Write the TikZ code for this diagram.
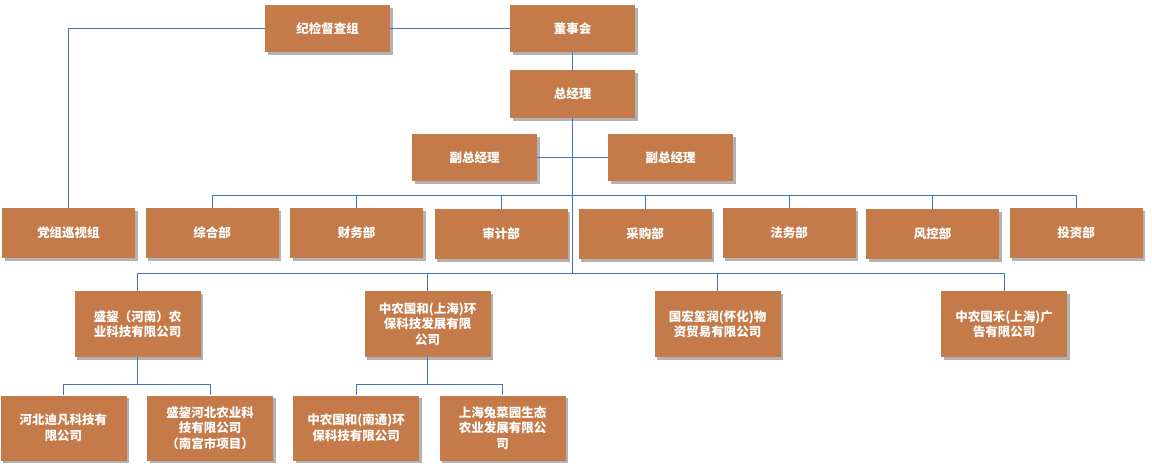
\documentclass[tikz,border=0pt]{standalone}
\usepackage{fontspec}
\newfontfamily\cjk{Noto Sans CJK SC}
\usetikzlibrary{shadows}
\definecolor{boxfill}{RGB}{196,122,73}
\definecolor{linkblue}{RGB}{68,114,196}
\tikzset{
  orgbox/.style={draw=none, fill=boxfill, text=white, font=\cjk\bfseries\fontsize{12.5}{15.5}\selectfont,
    align=center, inner sep=2pt,
    drop shadow={shadow xshift=2.5pt, shadow yshift=-2.5pt, fill=black, opacity=0.3}},
  topbox/.style={orgbox, minimum width=125pt, minimum height=47pt},
  deptbox/.style={orgbox, minimum width=133pt, minimum height=50pt},
  combox/.style={orgbox, minimum width=126pt, minimum height=66pt},
  subbox/.style={orgbox, minimum width=126pt, minimum height=65pt},
  conn/.style={draw=linkblue, line width=0.9pt}
}
\begin{document}
\begin{tikzpicture}[x=1pt, y=-1pt]
\useasboundingbox (0,0) rectangle (1152,466);
% top level
\node[topbox] (jj) at (327.5,28.5) {纪检督查组};
\node[topbox] (dsh) at (572.5,28.5) {董事会};
\node[topbox, minimum height=48pt] (zjl) at (572.5,94) {总经理};
\node[topbox] (fz1) at (474.5,157.5) {副总经理};
\node[topbox] (fz2) at (670.5,157.5) {副总经理};
% departments
\node[deptbox] (dz) at (68.5,233) {党组巡视组};
\node[deptbox] (zh) at (212,233) {综合部};
\node[deptbox] (cw) at (356.5,233) {财务部};
\node[deptbox] (sj) at (501,234) {审计部};
\node[deptbox] (cg) at (645,234) {采购部};
\node[deptbox] (fw) at (789,233) {法务部};
\node[deptbox] (fk) at (932.5,234) {风控部};
\node[deptbox] (tz) at (1076,233) {投资部};
% companies
\node[combox] (c1) at (137.5,324) {盛鋆（河南）农\\业科技有限公司};
\node[combox] (c2) at (427.5,324) {中农国和(上海)环\\保科技发展有限\\公司};
\node[combox] (c3) at (717.5,324) {国宏玺润(怀化)物\\资贸易有限公司};
\node[combox] (c4) at (1004,324) {中农国禾(上海)广\\告有限公司};
% subsidiaries
\node[subbox] (s1) at (63.5,428) {河北迪凡科技有\\限公司};
\node[subbox] (s2) at (210,428) {盛鋆河北农业科\\技有限公司\\（南宫市项目）};
\node[subbox] (s3) at (356,428) {中农国和(南通)环\\保科技有限公司};
\node[subbox] (s4) at (502.5,428) {上海兔菜园生态\\农业发展有限公\\司};
% bus coordinates
\coordinate (bd) at (0,195.5);
\coordinate (bc) at (0,273);
\coordinate (bs) at (0,384.5);
% connectors
\draw[conn] (jj.west) -| (dz.north);
\draw[conn] (jj.east) -- (dsh.west);
\draw[conn] (dsh.south) -- (zjl.north);
\draw[conn] (fz1.east) -- (fz2.west);
\draw[conn] (zjl.south) -- (zjl.south |- bc) coordinate (trunk);
\draw[conn] (zh.north) |- (bd -| tz.north) -- (tz.north);
\foreach \n in {cw,sj,cg,fw,fk} { \draw[conn] (\n.north) -- (\n.north |- bd); }
\draw[conn] (c1.north) |- (bc -| c4.north) -- (c4.north);
\draw[conn] (c2.north) -- (c2.north |- bc);
\draw[conn] (c3.north) -- (c3.north |- bc);
\draw[conn] (c1.south) -- (c1.south |- bs);
\draw[conn] (s1.north) |- (bs -| s2.north) -- (s2.north);
\draw[conn] (c2.south) -- (c2.south |- bs);
\draw[conn] (s3.north) |- (bs -| s4.north) -- (s4.north);
\end{tikzpicture}
\end{document}
